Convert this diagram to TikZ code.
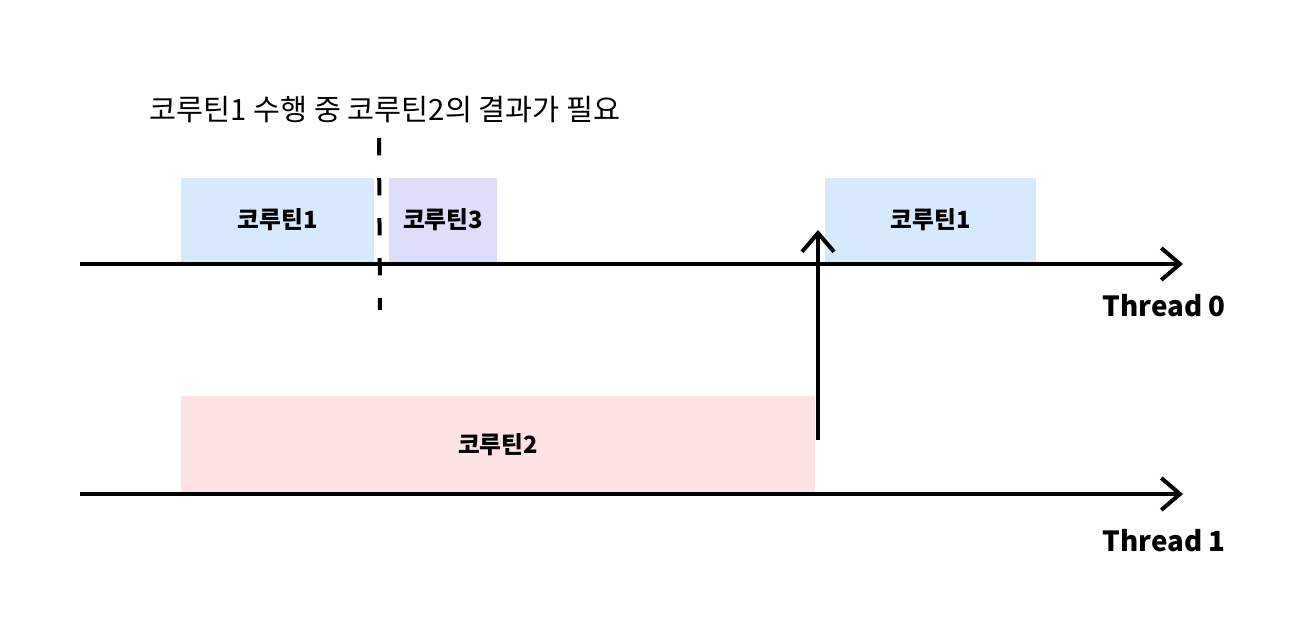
\documentclass[tikz,border=0pt]{standalone}
\usepackage{fontspec}
\setmainfont{Noto Sans CJK KR}
\usetikzlibrary{arrows.meta,positioning}
\definecolor{bluelite}{HTML}{D7E9FC}
\definecolor{purplelite}{HTML}{DEDDFA}
\definecolor{redlite}{HTML}{FDE3E3}

\begin{document}
\begin{tikzpicture}[x=0.75pt,y=-0.75pt,>={Straight Barb[length=14pt,width=24pt]}]
      \useasboundingbox (0,0) rectangle (1294,631);
      \tikzset{task/.style={inner sep=0pt,font=\bfseries\fontsize{17.8}{20}\selectfont},
               axis/.style={->,line width=3pt}}
      % coroutine blocks
      \node[task,fill=bluelite,minimum width=144.75pt,minimum height=63pt] (co1a) at (277.5,220) {코루틴1};
      \node[task,fill=purplelite,minimum width=81pt,minimum height=63pt] (co3) at (443,220) {코루틴3};
      \node[task,fill=bluelite,minimum width=158.25pt,minimum height=63pt] (co1b) at (930.5,220) {코루틴1};
      \node[task,fill=redlite,minimum width=475.5pt,minimum height=73.5pt] (co2) at (498,445) {코루틴2};
      % threads
      \coordinate (t0a) at (80,264);
      \coordinate (t0b) at (1183,264);
      \coordinate (t1a) at (80,494);
      \coordinate (t1b) at (1183,494);
      \draw[axis] (t0a) -- (t0b);
      \draw[axis] (t1a) -- (t1b);
      \node[font=\bfseries\fontsize{20.8}{23}\selectfont,inner sep=0pt,anchor=east] (th0) at (1226,306) {Thread 0};
      \node[font=\bfseries\fontsize{20.8}{23}\selectfont,inner sep=0pt,anchor=east] (th1) at (1226,541) {Thread 1};
      % suspension point
      \node[font=\fontsize{22}{25}\selectfont] (note) at (385,110) {코루틴1 수행 중 코루틴2의 결과가 필요};
      \coordinate (cut1) at (379,138);
      \coordinate (cut2) at (380,310);
      \draw[line width=3pt,dash pattern=on 13pt off 17pt] (cut1) -- (cut2);
      % result back to thread 0
      \coordinate (wake) at (818,440);
      \coordinate (resume) at (818,230);
      \draw[axis] (wake) -- (resume);
    \end{tikzpicture}
\end{document}
